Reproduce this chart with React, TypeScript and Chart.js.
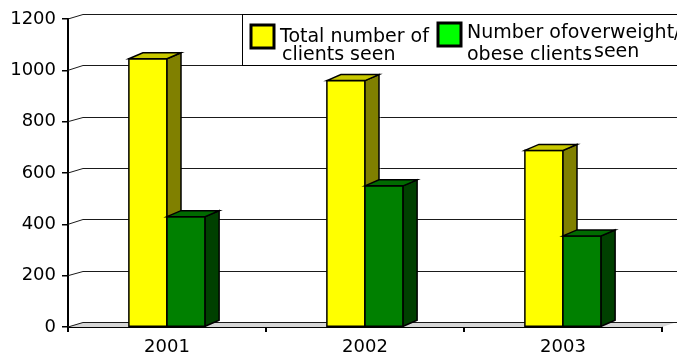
import React, { useEffect, useRef } from "react";
import { Chart, registerables } from "chart.js";
Chart.register(...registerables);

const categories = ["2001", "2002", "2003"];
const totalClients = [1045, 960, 688];
const overweightClients = [430, 550, 355];
const totalLabel = ["Total number of", "clients seen"];
const overweightLabel = ["Number ofoverweight/", "obese clients", "seen"];
const yMin = 0;
const yMax = 1200;
const yStep = 200;

const FRONT = ["#ffff00", "#008000"];
const SIDE = ["#808000", "#004000"];
const TOP = ["#c8c800", "#006a00"];
const SWATCH = ["#ffff00", "#00ff00"];
const FONT = "DejaVu Sans";

const BDX = 14, BDY = -6; // bar depth
const WDX = 15, WDY = -5; // wall depth

const wallPlugin = {
  id: "wall3d",
  beforeDatasetsDraw(chart: any) {
    const { ctx, chartArea, scales } = chart;
    const { left, right } = chartArea;
    const y = scales.y;
    const y0 = y.getPixelForValue(0);
    ctx.save();
    ctx.fillStyle = "#d6d6d6";
    ctx.beginPath();
    ctx.moveTo(left, y0);
    ctx.lineTo(right, y0);
    ctx.lineTo(right + WDX, y0 + WDY);
    ctx.lineTo(left + WDX, y0 + WDY);
    ctx.closePath();
    ctx.fill();
    ctx.strokeStyle = "#1a1a1a";
    ctx.lineWidth = 1;
    y.ticks.forEach((t: any) => {
      const fy = y.getPixelForValue(t.value);
      const by = Math.round(fy + WDY) + 0.5;
      ctx.beginPath();
      ctx.moveTo(left + WDX, by);
      ctx.lineTo(right + WDX + 30, by);
      ctx.stroke();
      ctx.beginPath();
      ctx.moveTo(left, fy);
      ctx.lineTo(left + WDX, by);
      ctx.stroke();
    });
    ctx.restore();
  },
};

const barPlugin = {
  id: "bars3d",
  afterDatasetsDraw(chart: any) {
    const { ctx } = chart;
    ctx.save();
    ctx.lineWidth = 1.5;
    ctx.strokeStyle = "#000";
    ctx.lineJoin = "miter";
    chart.data.datasets.forEach((_: any, di: number) => {
      const meta = chart.getDatasetMeta(di);
      meta.data.forEach((el: any) => {
        const { x, y, base, width } = el.getProps(["x", "y", "base", "width"], true);
        const l = x - width / 2, r = x + width / 2, t = y, b = base;
        ctx.fillStyle = FRONT[di];
        ctx.fillRect(l, t, r - l, b - t);
        ctx.strokeRect(l, t, r - l, b - t);
        ctx.beginPath();
        ctx.moveTo(r, t);
        ctx.lineTo(r + BDX, t + BDY);
        ctx.lineTo(r + BDX, b + BDY);
        ctx.lineTo(r, b);
        ctx.closePath();
        ctx.fillStyle = SIDE[di];
        ctx.fill();
        ctx.stroke();
        ctx.beginPath();
        ctx.moveTo(l, t);
        ctx.lineTo(l + BDX, t + BDY);
        ctx.lineTo(r + BDX, t + BDY);
        ctx.lineTo(r, t);
        ctx.closePath();
        ctx.fillStyle = TOP[di];
        ctx.fill();
        ctx.stroke();
      });
    });
    ctx.restore();
  },
};

const legendPlugin = {
  id: "legend3d",
  afterDraw(chart: any) {
    const { ctx, scales } = chart;
    const y = scales.y;
    const top = Math.round(y.getPixelForValue(yMax) + WDY) + 0.5;
    const bot = Math.round(y.getPixelForValue(yMax - yStep) + WDY) + 0.5;
    const lx = 242.5;
    ctx.save();
    ctx.fillStyle = "#fff";
    ctx.fillRect(lx, top, 700, bot - top);
    ctx.strokeStyle = "#000";
    ctx.lineWidth = 1;
    ctx.strokeRect(lx, top, 700, bot - top);
    ctx.lineWidth = 3;
    ctx.fillStyle = SWATCH[0];
    ctx.fillRect(251, 25, 23, 23);
    ctx.strokeRect(251, 25, 23, 23);
    ctx.fillStyle = SWATCH[1];
    ctx.fillRect(438, 23, 23, 23);
    ctx.strokeRect(438, 23, 23, 23);
    ctx.fillStyle = "#000";
    ctx.font = `19px "${FONT}"`;
    ctx.textBaseline = "alphabetic";
    ctx.fillText(totalLabel[0], 280, 42);
    ctx.fillText(totalLabel[1], 282, 60);
    ctx.fillText(overweightLabel[0], 467, 38);
    ctx.fillText(overweightLabel[1], 467, 60);
    ctx.fillText(overweightLabel[2], 594, 57);
    ctx.restore();
  },
};

export default function App() {
  const ref = useRef<HTMLCanvasElement>(null);
  useEffect(() => {
    if (!ref.current) return;
    const chart = new Chart(ref.current, {
      type: "bar",
      data: {
        labels: categories,
        datasets: [
          { label: totalLabel.join(" "), data: totalClients, backgroundColor: FRONT[0], borderWidth: 0 },
          { label: overweightLabel.join(" "), data: overweightClients, backgroundColor: FRONT[1], borderWidth: 0 },
        ],
      },
      options: {
        responsive: false,
        animation: false,
        events: [],
        layout: { padding: { top: 19, right: 15, bottom: 0, left: 0 } },
        datasets: { bar: { categoryPercentage: 0.385, barPercentage: 1 } },
        plugins: { legend: { display: false }, tooltip: { enabled: false }, title: { display: false } },
        scales: {
          x: {
            afterFit: (s: any) => { s.height = 29; },
            grid: { display: true, drawOnChartArea: false, drawTicks: true, tickLength: 5, color: "#000", lineWidth: 2, offset: true },
            border: { display: true, color: "#000", width: 2 },
            ticks: { color: "#000", font: { family: FONT, size: 18 }, padding: 5, maxRotation: 0 },
          },
          y: {
            min: yMin,
            max: yMax,
            afterFit: (s: any) => { s.width = 68; },
            grid: { display: true, drawOnChartArea: false, drawTicks: true, tickLength: 6, color: "#000", lineWidth: 1.5 },
            border: { display: true, color: "#000", width: 2 },
            ticks: { stepSize: yStep, color: "#000", font: { family: FONT, size: 18 }, padding: 6, callback: (v: any) => String(v) },
          },
        },
      },
      plugins: [wallPlugin, barPlugin, legendPlugin],
    });
    return () => chart.destroy();
  }, []);
  return (
    <div style={{ position: "fixed", left: 0, top: 0, width: 677, height: 356, background: "#fff" }}>
      <canvas ref={ref} width={677} height={356} style={{ display: "block" }} />
    </div>
  );
}
